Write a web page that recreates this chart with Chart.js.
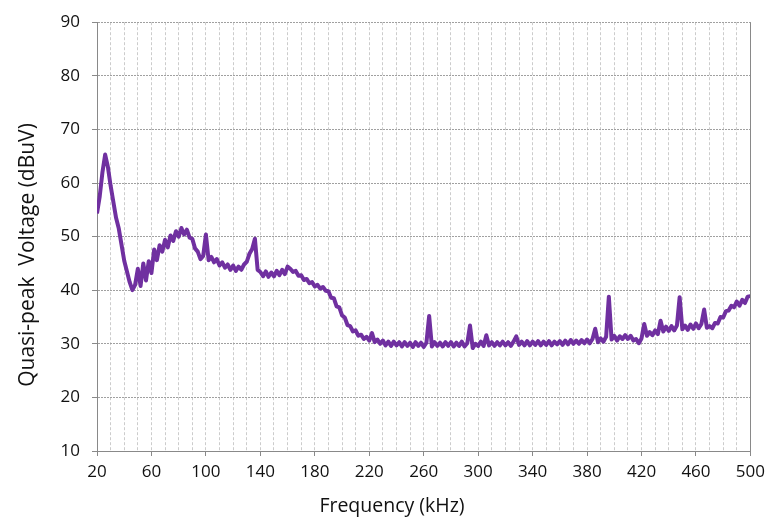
<!DOCTYPE html>
<html>
<head>
<meta charset="utf-8">
<title>Quasi-peak conducted emission</title>
<script src="https://cdn.jsdelivr.net/npm/chart.js@4.4.1/dist/chart.umd.min.js"></script>
<style>
  body { margin: 0; background: #fff; }
  #wrap { width: 771px; height: 522px; position: relative; }
</style>
</head>
<body>
<div id="wrap"><canvas id="qpChart"></canvas></div>
<script>
// Sweep from 20 kHz to 500 kHz, one reading every 2 kHz
const freqs = Array.from({ length: 241 }, (_, i) => 20 + i * 2);

// Quasi-peak level in dBuV at each frequency above
const levels = [
  54.3, 57.5, 62.0, 65.3, 63.0, 59.5, 56.5, 53.5, 51.5, 48.5,   // 20-38
  45.5, 43.5, 41.5, 40.0, 41.0, 44.0, 40.8, 45.0, 41.8, 45.4,   // 40-58
  43.2, 47.6, 45.6, 48.4, 47.2, 49.4, 48.0, 50.2, 49.2, 51.0,   // 60-78
  50.0, 51.6, 50.4, 51.3, 49.8, 49.6, 47.8, 47.2, 45.8, 46.4,   // 80-98
  50.4, 45.6, 46.2, 45.2, 45.8, 44.6, 45.2, 44.2, 44.8, 43.8,   // 100-118
  44.6, 43.6, 44.4, 43.8, 44.8, 45.3, 46.8, 47.7, 49.6, 43.8,   // 120-138
  43.4, 42.6, 43.5, 42.5, 43.3, 42.6, 43.6, 42.8, 43.8, 43.0,   // 140-158
  44.4, 44.0, 43.4, 43.6, 42.7, 42.8, 41.9, 42.1, 41.3, 41.5,   // 160-178
  40.7, 41.0, 40.3, 40.6, 39.9, 39.8, 38.6, 38.5, 37.0, 36.8,   // 180-198
  35.3, 34.9, 33.5, 33.3, 32.3, 32.5, 31.5, 31.7, 30.9, 31.3,   // 200-218
  30.6, 32.0, 30.3, 30.8, 30.0, 30.6, 29.7, 30.4, 29.6, 30.4,   // 220-238
  29.7, 30.3, 29.5, 30.3, 29.6, 30.2, 29.4, 30.3, 29.6, 30.2,   // 240-258
  29.4, 30.2, 35.2, 29.5, 30.3, 29.6, 30.2, 29.5, 30.3, 29.6,   // 260-278
  30.3, 29.5, 30.2, 29.6, 30.4, 29.5, 30.1, 33.4, 29.2, 30.0,   // 280-298
  29.6, 30.4, 29.6, 31.6, 29.7, 30.3, 29.6, 30.3, 29.7, 30.4,   // 300-318
  29.7, 30.3, 29.6, 30.4, 31.4, 29.8, 30.4, 29.7, 30.5, 29.7,   // 320-338
  30.4, 29.8, 30.5, 29.7, 30.4, 29.8, 30.5, 29.7, 30.4, 29.9,   // 340-358
  30.5, 29.8, 30.6, 29.9, 30.7, 30.0, 30.6, 30.0, 30.7, 30.1,   // 360-378
  30.8, 30.1, 30.9, 32.8, 30.3, 31.0, 30.4, 31.3, 38.8, 30.8,   // 380-398
  31.5, 30.6, 31.4, 30.9, 31.6, 30.9, 31.5, 30.6, 30.9, 30.1,   // 400-418
  31.0, 33.7, 31.5, 32.2, 31.6, 32.5, 31.8, 34.3, 32.3, 33.2,   // 420-438
  32.4, 33.3, 32.5, 33.4, 38.7, 32.7, 33.4, 32.6, 33.6, 32.8,   // 440-458
  33.8, 32.9, 33.7, 36.4, 33.0, 33.3, 32.9, 33.9, 33.8, 35.0,   // 460-478
  34.9, 36.1, 36.2, 37.1, 36.8, 37.9, 37.1, 38.2, 37.6, 38.8,   // 480-498
  38.9                                                          // 500
];

const xLabelTicks = [20, 60, 100, 140, 180, 220, 260, 300, 340, 380, 420, 460, 500];
const yTicks = [10, 20, 30, 40, 50, 60, 70, 80, 90];

const axisGray = '#898989';
const textColor = '#111111';
const fontFamily = "'Open Sans', 'Liberation Sans', sans-serif";

// Axis titles and the right-hand frame line of the plot area
const framePlugin = {
  id: 'frame',
  afterDraw(chart) {
    const { ctx, chartArea } = chart;
    ctx.save();
    ctx.strokeStyle = axisGray;
    ctx.lineWidth = 1;
    ctx.beginPath();
    ctx.moveTo(Math.round(chartArea.right) + 0.5, chartArea.top);
    ctx.lineTo(Math.round(chartArea.right) + 0.5, chartArea.bottom + 5);
    ctx.stroke();

    ctx.fillStyle = textColor;
    ctx.textAlign = 'center';
    ctx.textBaseline = 'middle';
    ctx.font = `19.5px ${fontFamily}`;
    ctx.fillText('Frequency (kHz)', 392, 506);

    ctx.font = `21px ${fontFamily}`;
    ctx.translate(28, 255);
    ctx.rotate(-Math.PI / 2);
    ctx.fillText('Quasi-peak  Voltage (dBuV)', 0, 0);
    ctx.restore();
  }
};

new Chart(document.getElementById('qpChart'), {
  type: 'line',
  data: {
    datasets: [{
      label: 'Quasi-peak',
      data: freqs.map((f, i) => ({ x: f, y: levels[i] })),
      borderColor: '#7030a0',
      borderWidth: 4,
      borderJoinStyle: 'round',
      pointRadius: 0,
      tension: 0,
      fill: false
    }]
  },
  options: {
    responsive: true,
    maintainAspectRatio: false,
    animation: false,
    layout: { padding: { top: 19, right: 19, left: 0, bottom: 0 } },
    plugins: {
      legend: { display: false },
      tooltip: { enabled: false }
    },
    scales: {
      x: {
        type: 'linear',
        min: 20,
        max: 500,
        afterFit: (scale) => { scale.height = 71; },
        ticks: {
          stepSize: 10,
          autoSkip: false,
          maxRotation: 0,
          padding: 6,
          color: textColor,
          font: { family: fontFamily, size: 17 },
          callback: (v) => xLabelTicks.includes(v) ? String(v) : ''
        },
        grid: {
          color: '#cccccc',
          lineWidth: 1,
          tickLength: 5,
          tickColor: (c) => xLabelTicks.includes(c.tick && c.tick.value) ? axisGray : 'rgba(0,0,0,0)'
        },
        border: { color: axisGray, width: 1, dash: [3, 2] }
      },
      y: {
        min: 10,
        max: 90,
        afterFit: (scale) => { scale.width = 97; },
        afterBuildTicks: (scale) => { scale.ticks = yTicks.map(v => ({ value: v })); },
        ticks: {
          padding: 12,
          color: textColor,
          font: { family: fontFamily, size: 17 }
        },
        grid: {
          color: '#a0a0a0',
          lineWidth: 1,
          tickLength: 5,
          tickColor: axisGray
        },
        border: { color: axisGray, width: 1, dash: [2, 1] }
      }
    }
  },
  plugins: [framePlugin]
});
</script>
</body>
</html>
